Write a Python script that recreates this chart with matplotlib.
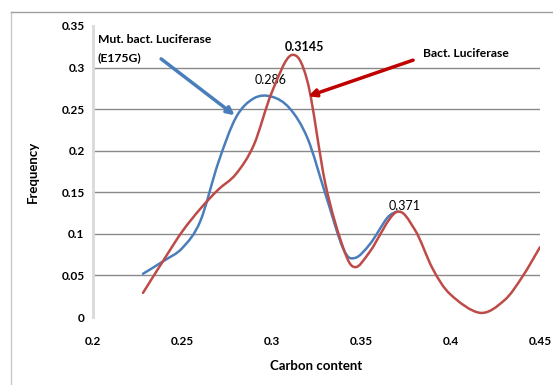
import numpy as np
import matplotlib
matplotlib.use('Agg')
import matplotlib.pyplot as plt
from matplotlib.lines import Line2D
from matplotlib.path import Path
from matplotlib.patches import PathPatch

plt.rcParams['font.family'] = ['Lato', 'DejaVu Sans']

# red curve: Bact. Luciferase
bact_x = [0.228, 0.24, 0.25, 0.26, 0.27, 0.28, 0.29, 0.30, 0.311, 0.32, 0.33,
          0.34, 0.3465, 0.355, 0.3695, 0.38, 0.39, 0.40, 0.4165, 0.43, 0.44, 0.45]
bact_y = [0.029, 0.07, 0.103, 0.13, 0.153, 0.172, 0.207, 0.27, 0.315, 0.283, 0.16,
          0.083, 0.060, 0.079, 0.126, 0.105, 0.058, 0.027, 0.005, 0.02, 0.048, 0.084]

# blue curve: Mut. bact. Luciferase (E175G)
mut_x = [0.228, 0.24, 0.25, 0.26, 0.27, 0.28, 0.29, 0.30, 0.31, 0.32, 0.33,
         0.34, 0.3465, 0.355, 0.3645, 0.370]
mut_y = [0.052, 0.068, 0.083, 0.115, 0.185, 0.24, 0.263, 0.265, 0.251, 0.215, 0.148,
         0.082, 0.071, 0.088, 0.119, 0.127]

xticks = [0.2, 0.25, 0.3, 0.35, 0.4, 0.45]
yticks = [0, 0.05, 0.1, 0.15, 0.2, 0.25, 0.3, 0.35]
xtick_labels = ['0.2', '0.25', '0.3', '0.35', '0.4', '0.45']
ytick_labels = ['0', '0.05', '0.1', '0.15', '0.2', '0.25', '0.3', '0.35']


def smooth_line(ax, xs, ys, color, lw, z):
    # Excel-style smoothed line: cubic Bezier segments through the data points
    p = np.column_stack([xs, ys])
    n = len(p)
    verts = [p[0]]
    codes = [Path.MOVETO]
    for i in range(n - 1):
        p0 = p[i - 1] if i > 0 else p[i]
        p3 = p[i + 2] if i + 2 < n else p[i + 1]
        c1 = p[i] + (p[i + 1] - p0) / 6
        c2 = p[i + 1] - (p3 - p[i]) / 6
        verts += [c1, c2, p[i + 1]]
        codes += [Path.CURVE4] * 3
    patch = PathPatch(Path(verts, codes), facecolor='none', edgecolor=color,
                      lw=lw, zorder=z, capstyle='round', joinstyle='round')
    ax.add_patch(patch)


fig = plt.figure(figsize=(5.53, 3.85), dpi=100)
ax = fig.add_axes([0.168, 0.1766, 0.8085, 0.7559])

# outer chart border (left and top visible)
fig.add_artist(Line2D([11/553, 11/553], [0, 1 - 12/385], color='#c8c8c8', lw=1))
fig.add_artist(Line2D([11/553, 1], [1 - 12/385, 1 - 12/385], color='#a0a0a0', lw=1))

ax.hlines(yticks[1:-1], 0.2, 0.45, color='#8a8a8a', lw=1, zorder=1)

smooth_line(ax, mut_x, mut_y, '#4a7ebb', 1.8, 3)
smooth_line(ax, bact_x, bact_y, '#be4b48', 1.8, 4)

ax.set_xlim(0.2, 0.45)
ax.set_ylim(0, 0.35)
ax.set_xticks(xticks)
ax.set_xticklabels(xtick_labels)
ax.set_yticks(yticks)
ax.set_yticklabels(ytick_labels)
ax.tick_params(length=0, labelsize=8.5, pad=6)
ax.tick_params(axis='x', pad=14)
for lb in ax.get_xticklabels() + ax.get_yticklabels():
    lb.set_fontweight('bold')
for s in ['top', 'right', 'bottom']:
    ax.spines[s].set_visible(False)
ax.spines['left'].set_color('#d9d9d9')
ax.spines['left'].set_linewidth(2)

ax.set_xlabel('Carbon content', fontsize=9.5, fontweight='bold', labelpad=9)
ax.set_ylabel('Frequency', fontsize=9.5, fontweight='bold', labelpad=16)

ax.text(0.2994, 0.285, '0.286', ha='center', va='center', fontsize=9)
ax.text(0.3185, 0.325, '0.3145', ha='center', va='center', fontsize=9, fontweight='bold')
ax.text(0.3745, 0.1335, '0.371', ha='center', va='center', fontsize=9)

ax.text(0.2027, 0.3335, 'Mut. bact. Luciferase', ha='left', va='center', fontsize=8.7, fontweight='bold')
ax.text(0.2027, 0.312, '(E175G)', ha='left', va='center', fontsize=8.7, fontweight='bold')
ax.text(0.3846, 0.317, 'Bact. Luciferase', ha='left', va='center', fontsize=8.7, fontweight='bold')

ax.annotate('', xy=(0.2805, 0.2406), xytext=(0.2369, 0.3125),
            arrowprops=dict(arrowstyle='-|>', color='#4a7ebb', lw=2.5, mutation_scale=11), zorder=5)
ax.annotate('', xy=(0.3190, 0.2645), xytext=(0.3805, 0.310),
            arrowprops=dict(arrowstyle='-|>', color='#c00000', lw=2.5, mutation_scale=11), zorder=5)

fig.savefig('out.png', dpi=100)
